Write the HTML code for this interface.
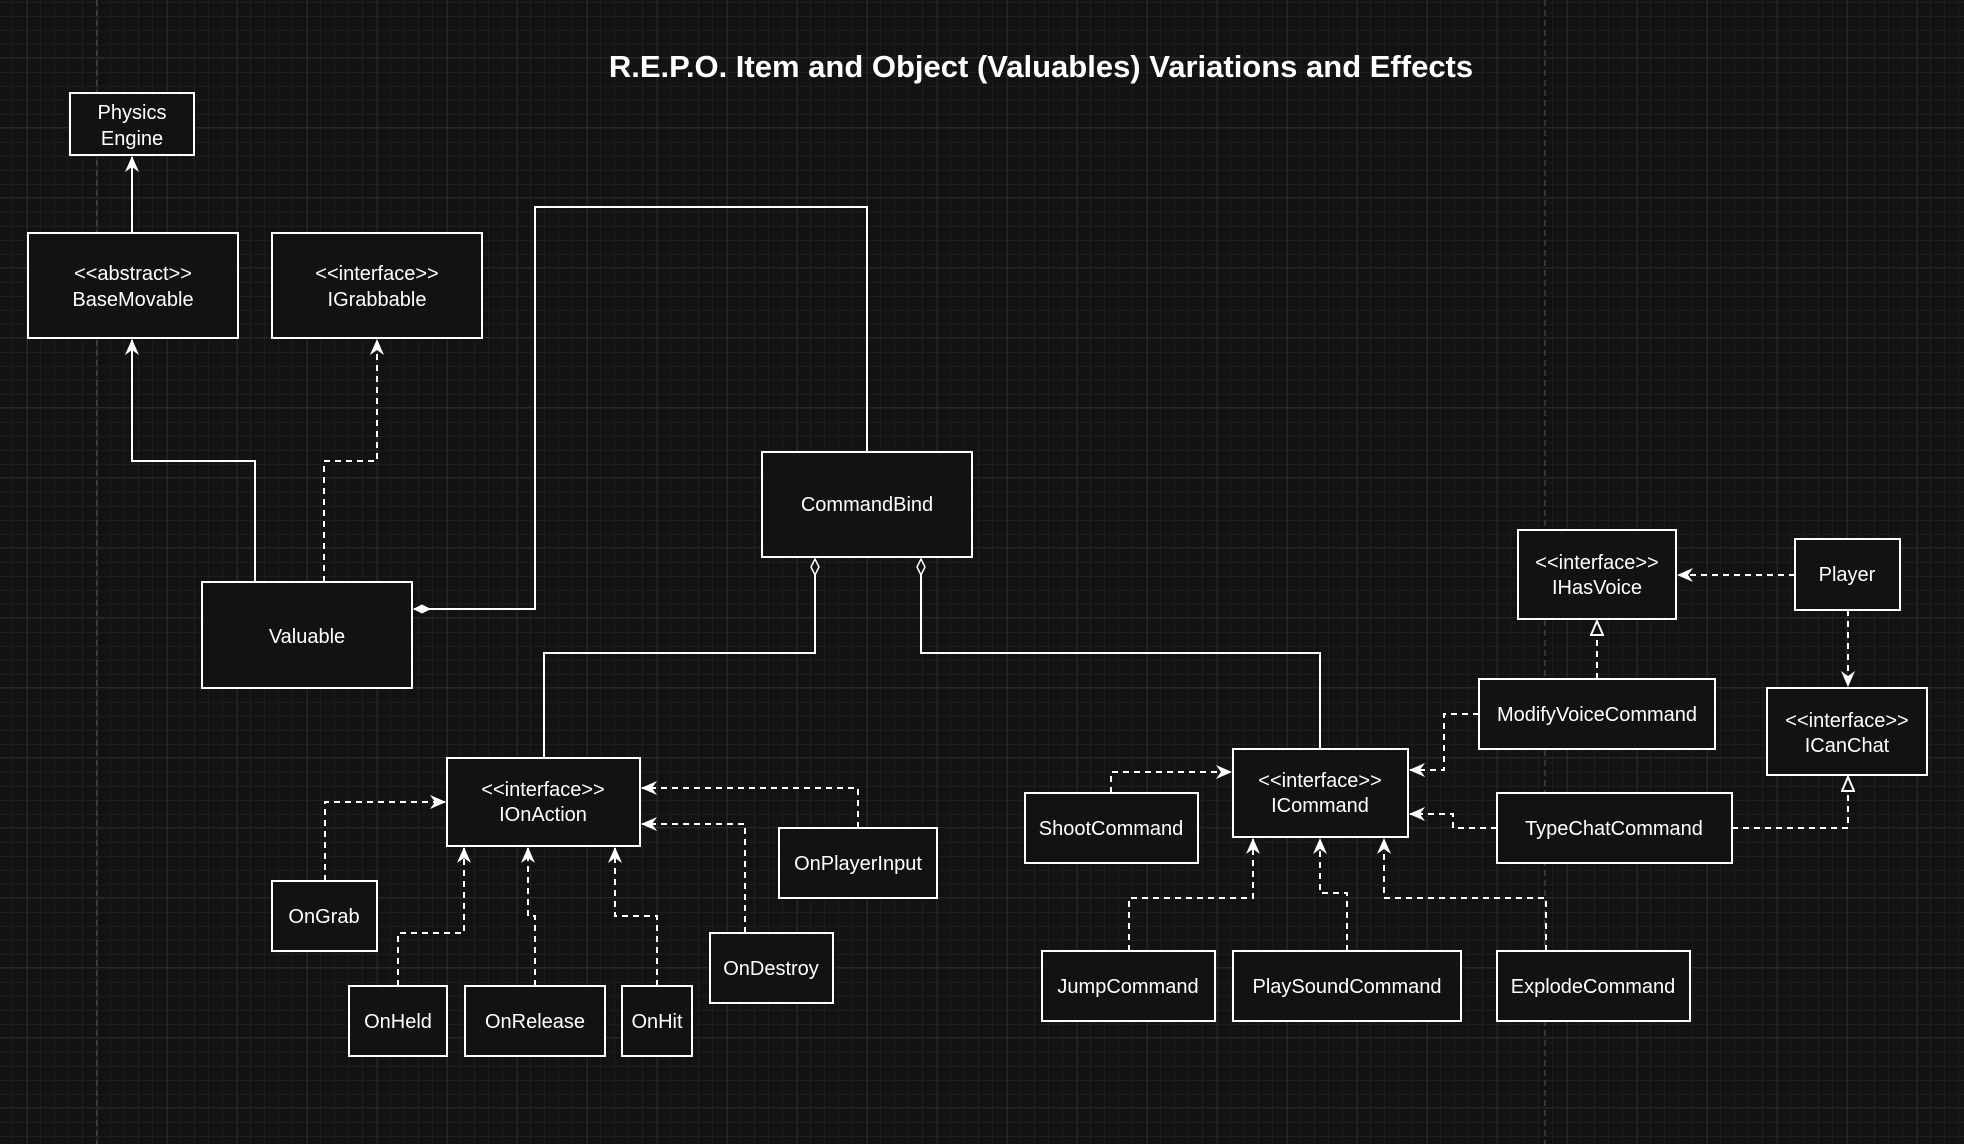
<!DOCTYPE html>
<html><head><meta charset="utf-8"><style>
html,body{margin:0;padding:0;background:#121212;}
svg{display:block}
text{font-family:"Liberation Sans",Arial,sans-serif;fill:#fff;}
</style></head><body>
<svg width="1964" height="1144" viewBox="0 0 1964 1144" xmlns="http://www.w3.org/2000/svg">
<defs>
<pattern id="minor" x="27" y="57" width="14" height="14" patternUnits="userSpaceOnUse">
<path d="M0 0H14M0 0V14" stroke="#262626" stroke-width="1" fill="none"/>
</pattern>
<pattern id="major" x="27" y="57" width="70" height="70" patternUnits="userSpaceOnUse">
<rect width="70" height="70" fill="url(#minor)"/>
<path d="M0 0H70M0 0V70" stroke="#3a3a3a" stroke-width="1" fill="none"/>
</pattern>
<marker id="arr" viewBox="0 0 16 14" refX="15" refY="7" markerWidth="16" markerHeight="14" markerUnits="userSpaceOnUse" orient="auto">
<path d="M0 0L16 7L0 14L5 7Z" fill="#fff"/>
</marker>
<marker id="tri" viewBox="0 0 16 14" refX="15" refY="7" markerWidth="16" markerHeight="14" markerUnits="userSpaceOnUse" orient="auto">
<path d="M1 1L15 7L1 13Z" fill="#121212" stroke="#fff" stroke-width="2"/>
</marker>
<marker id="dfill" viewBox="0 0 18 10" refX="17" refY="5" markerWidth="18" markerHeight="10" markerUnits="userSpaceOnUse" orient="auto">
<path d="M1 5L9 1L17 5L9 9Z" fill="#fff" stroke="#fff" stroke-width="1"/>
</marker>
<marker id="dhol" viewBox="0 0 18 10" refX="17" refY="5" markerWidth="18" markerHeight="10" markerUnits="userSpaceOnUse" orient="auto">
<path d="M1 5L9 1L17 5L9 9Z" fill="#121212" stroke="#fff" stroke-width="1.5"/>
</marker>
</defs>
<rect width="1964" height="1144" fill="#121212"/>
<rect width="1964" height="1144" fill="url(#major)"/>
<line x1="97" y1="0" x2="97" y2="1144" stroke="#555" stroke-dasharray="6 4"/>
<line x1="1545" y1="0" x2="1545" y2="1144" stroke="#555" stroke-dasharray="6 4"/>

<text x="1041" y="77" text-anchor="middle" font-size="31" font-weight="bold">R.E.P.O. Item and Object (Valuables) Variations and Effects</text>

<g stroke="#fff" stroke-width="2" fill="none">
<path d="M132 233V157" marker-end="url(#arr)"/>
<path d="M255 582V461H132V340" marker-end="url(#arr)"/>
<path d="M867 452V207H535V609H414" marker-end="url(#dfill)"/>
<path d="M544 758V653H815V559" marker-end="url(#dhol)"/>
<path d="M1320 749V653H921V559" marker-end="url(#dhol)"/>
</g>
<g stroke="#fff" stroke-width="2" fill="none" stroke-dasharray="6 5">
<path d="M324 582V461H377V340" marker-end="url(#arr)"/>
<path d="M1795 575H1678" marker-end="url(#arr)"/>
<path d="M1848 610V686" marker-end="url(#arr)"/>
<path d="M1597 679V621" marker-end="url(#tri)"/>
<path d="M1479 714H1444V770H1410" marker-end="url(#arr)"/>
<path d="M1497 828H1453V814H1410" marker-end="url(#arr)"/>
<path d="M1732 828H1848V777" marker-end="url(#tri)"/>
<path d="M1111 793V772H1231" marker-end="url(#arr)"/>
<path d="M1129 951V898H1253V839" marker-end="url(#arr)"/>
<path d="M1347 951V893H1320V839" marker-end="url(#arr)"/>
<path d="M1546 951V898H1384V839" marker-end="url(#arr)"/>
<path d="M325 881V802H445" marker-end="url(#arr)"/>
<path d="M398 986V933H464V848" marker-end="url(#arr)"/>
<path d="M535 986V916H528V848" marker-end="url(#arr)"/>
<path d="M657 986V916H615V848" marker-end="url(#arr)"/>
<path d="M745 933V824H642" marker-end="url(#arr)"/>
<path d="M858 828V788H642" marker-end="url(#arr)"/>
</g>

<g fill="#121212" stroke="#fff" stroke-width="2">
<rect x="70" y="93" width="124" height="62"/>
<rect x="28" y="233" width="210" height="105"/>
<rect x="272" y="233" width="210" height="105"/>
<rect x="762" y="452" width="210" height="105"/>
<rect x="202" y="582" width="210" height="106"/>
<rect x="1518" y="530" width="158" height="89"/>
<rect x="1795" y="539" width="105" height="71"/>
<rect x="1479" y="679" width="236" height="70"/>
<rect x="1767" y="688" width="160" height="87"/>
<rect x="1233" y="749" width="175" height="88"/>
<rect x="1025" y="793" width="173" height="70"/>
<rect x="1497" y="793" width="235" height="70"/>
<rect x="447" y="758" width="193" height="88"/>
<rect x="779" y="828" width="158" height="70"/>
<rect x="272" y="881" width="105" height="70"/>
<rect x="710" y="933" width="123" height="70"/>
<rect x="349" y="986" width="98" height="70"/>
<rect x="465" y="986" width="140" height="70"/>
<rect x="622" y="986" width="70" height="70"/>
<rect x="1042" y="951" width="173" height="70"/>
<rect x="1233" y="951" width="228" height="70"/>
<rect x="1497" y="951" width="193" height="70"/>
</g>

<g font-size="20" text-anchor="middle">
<text x="132" y="119">Physics</text><text x="132" y="145">Engine</text>
<text x="133" y="280">&lt;&lt;abstract&gt;&gt;</text><text x="133" y="306">BaseMovable</text>
<text x="377" y="280">&lt;&lt;interface&gt;&gt;</text><text x="377" y="306">IGrabbable</text>
<text x="867" y="511">CommandBind</text>
<text x="307" y="643">Valuable</text>
<text x="1597" y="569">&lt;&lt;interface&gt;&gt;</text><text x="1597" y="594">IHasVoice</text>
<text x="1847" y="581">Player</text>
<text x="1597" y="721">ModifyVoiceCommand</text>
<text x="1847" y="727">&lt;&lt;interface&gt;&gt;</text><text x="1847" y="752">ICanChat</text>
<text x="1320" y="787">&lt;&lt;interface&gt;&gt;</text><text x="1320" y="812">ICommand</text>
<text x="1111" y="835">ShootCommand</text>
<text x="1614" y="835">TypeChatCommand</text>
<text x="543" y="796">&lt;&lt;interface&gt;&gt;</text><text x="543" y="821">IOnAction</text>
<text x="858" y="870">OnPlayerInput</text>
<text x="324" y="923">OnGrab</text>
<text x="771" y="975">OnDestroy</text>
<text x="398" y="1028">OnHeld</text>
<text x="535" y="1028">OnRelease</text>
<text x="657" y="1028">OnHit</text>
<text x="1128" y="993">JumpCommand</text>
<text x="1347" y="993">PlaySoundCommand</text>
<text x="1593" y="993">ExplodeCommand</text>
</g>
</svg>
</body></html>
